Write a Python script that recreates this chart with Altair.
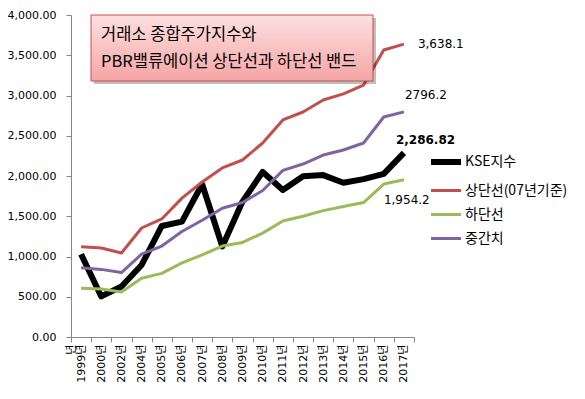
import altair as alt
import pandas as pd

years = ["1999", "2000", "2002", "2004", "2005", "2006", "2007", "2008", "2009",
         "2010", "2011", "2012", "2013", "2014", "2015", "2016", "2017"]
kse = [1028, 504, 628, 895, 1379, 1434, 1897, 1124, 1682, 2051, 1826, 1997, 2011,
       1916, 1961, 2026, 2286.82]
upper = [1122, 1105, 1043, 1354, 1466, 1725, 1925, 2100, 2199, 2410, 2696, 2795,
         2944, 3020, 3130, 3565, 3638.1]
lower = [605, 595, 560, 730, 790, 920, 1020, 1130, 1175, 1290, 1440, 1500, 1570,
         1620, 1670, 1900, 1954.2]
middle = [860, 840, 800, 1030, 1130, 1310, 1450, 1600, 1670, 1820, 2070, 2149,
          2260, 2323, 2410, 2733, 2796.2]

series_names = ["KSE지수", "상단선(07년기준)", "하단선", "중간치"]
series_colors = ["#000000", "#c0504d", "#9bbb59", "#8064a2"]
series_widths = [6, 3, 3, 3]
end_labels = ["2,286.82", "3,638.1", "1,954.2", "2796.2"]

title_line1 = "거래소 종합주가지수와"
title_line2 = "PBR밸류에이션 상단선과 하단선 밴드"

rows = []
for i, (name, vals) in enumerate(zip(series_names, [kse, upper, lower, middle])):
    for y, v in zip(years, vals):
        rows.append({"year": y, "value": v, "series": name,
                     "draw_order": 9 if i == 0 else i})
df = pd.DataFrame(rows)

last = pd.DataFrame({
    "year": [years[-1]] * 4,
    "value": [kse[-1], upper[-1], lower[-1], middle[-1]],
    "series": series_names,
    "label": end_labels,
})

FONT = "DejaVu Sans, Noto Sans CJK KR"
KFONT = "Noto Sans CJK KR"

x_enc = alt.X("year:N", sort=years,
              scale=alt.Scale(type="band", paddingInner=0, paddingOuter=0),
              axis=alt.Axis(title=None, labelAngle=-90, tickBand="extent",
                            labelAlign="right", labelBaseline="middle",
                            labelFlush=False, labelOverlap=False,
                            labelExpr="datum.label + '년'", labelFontSize=11,
                            labelFont=FONT, labelColor="#000000",
                            domainColor="#868686", tickColor="#868686",
                            tickSize=5, labelPadding=2, grid=False))
y_enc = alt.Y("value:Q", scale=alt.Scale(domain=[0, 4000], nice=False),
              axis=alt.Axis(title=None, values=list(range(0, 4001, 500)),
                            format=",.2f", labelFontSize=11, labelFont=FONT,
                            labelColor="#000000", domainColor="#868686",
                            tickColor="#868686", tickSize=5, labelPadding=10,
                            grid=False))

legend_cfg = dict(title=None, orient="none", legendX=357, legendY=129,
                  symbolType="stroke", symbolSize=900, labelFontSize=14,
                  labelFont=KFONT, labelColor="#000000", rowPadding=-4,
                  labelOffset=1)

lines = alt.Chart(df).mark_line(strokeJoin="round").encode(
    x=x_enc, y=y_enc,
    color=alt.Color("series:N", sort=series_names,
                    scale=alt.Scale(domain=series_names, range=series_colors),
                    legend=alt.Legend(**legend_cfg)),
    strokeWidth=alt.StrokeWidth("series:N", sort=series_names,
                                scale=alt.Scale(type="ordinal", domain=series_names,
                                                range=series_widths),
                                legend=alt.Legend(**legend_cfg)),
    order=alt.Order("draw_order:Q"),
)

def end_text(name, dx, dy, bold=False):
    return alt.Chart(last[last["series"] == name]).mark_text(
        dx=dx, dy=dy, fontSize=12, font=FONT, color="#000000", align="left",
        fontWeight="bold" if bold else "normal"
    ).encode(x=x_enc, y=y_enc, text="label:N")

labels = (end_text(series_names[0], -8, -13, True) + end_text(series_names[1], 14, 0)
          + end_text(series_names[2], -20, 20) + end_text(series_names[3], 1, -17))

shadow = alt.Chart().mark_rect(fill="#000000", opacity=0.25).encode(
    x=alt.value(23), x2=alt.value(305), y=alt.value(3), y2=alt.value(69))
box = alt.Chart().mark_rect(
    stroke="#c0504d", strokeWidth=1,
    fill=alt.LinearGradient(gradient="linear", x1=0, y1=0, x2=0, y2=1,
                            stops=[alt.GradientStop(color="#fde0e0", offset=0),
                                   alt.GradientStop(color="#f5a5a5", offset=1)])
).encode(x=alt.value(20), x2=alt.value(302), y=alt.value(0), y2=alt.value(66))
t1 = alt.Chart().mark_text(text=title_line1, fontSize=16.5, font=KFONT, align="left",
                            baseline="middle", color="#000000").encode(
    x=alt.value(30), y=alt.value(20))
t2 = alt.Chart().mark_text(text=title_line2, fontSize=16.5, font=KFONT, align="left",
                            baseline="middle", color="#000000").encode(
    x=alt.value(30), y=alt.value(47))

chart = alt.layer(lines, labels, shadow, box, t1, t2).properties(
    width=343, height=322,
    autosize=alt.AutoSizeParams(type="none"),
    padding={"left": 63, "top": 7, "right": 163, "bottom": 54},
).configure_view(stroke=None)

chart.save("out.html", embed_options={"renderer": "svg", "actions": False})
